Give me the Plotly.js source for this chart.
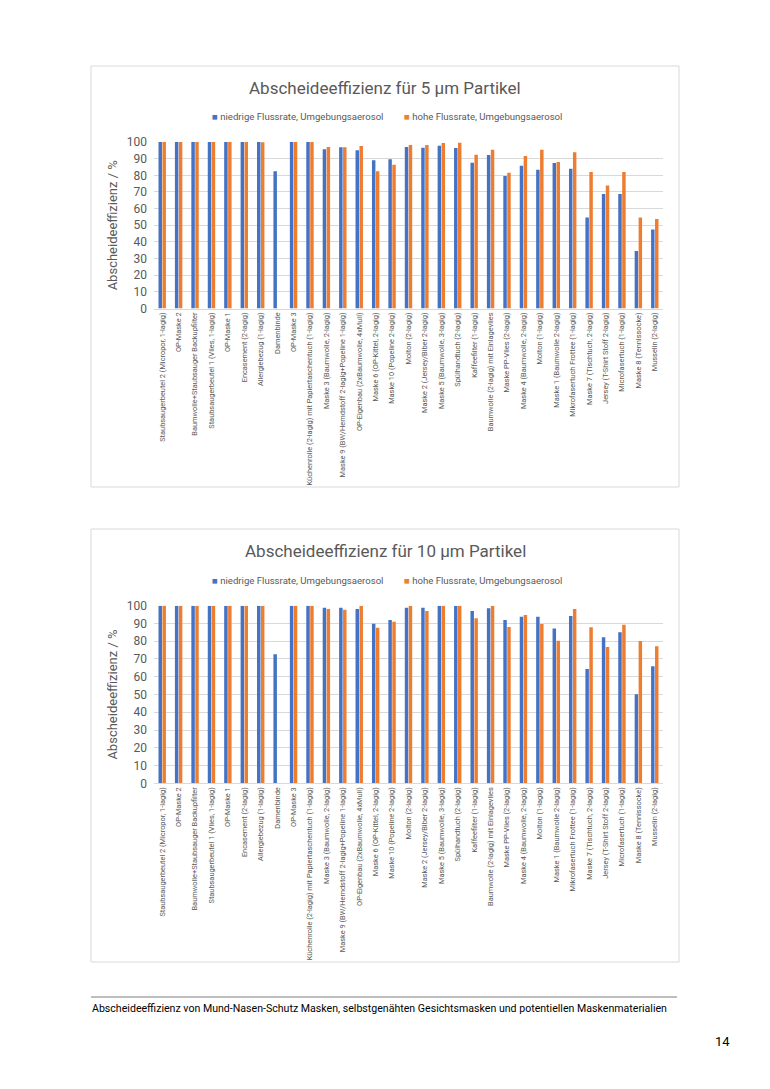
<!DOCTYPE html>
<html>
<head>
<meta charset="utf-8">
<script src="https://cdn.plot.ly/plotly-3.0.1.min.js"></script>
<style>html,body{margin:0;padding:0;background:#fff;}#chart{width:770px;height:1089px;}</style>
</head>
<body>
<div id="chart"></div>
<script>
const categories = [
  "Staubsaugerbeutel 2 (Micropor, 1-lagig)",
  "OP-Maske 2",
  "Baumwolle+Staubsauger Backupfilter",
  "Staubsaugerbeutel 1 (Vlies, 1-lagig)",
  "OP-Maske 1",
  "Encasement (2-lagig)",
  "Allergiebezug (1-lagig)",
  "Damenbinde",
  "OP-Maske 3",
  "Küchenrolle (2-lagig) mit Papiertaschentuch (1-lagig)",
  "Maske 3 (Baumwolle, 2-lagig)",
  "Maske 9 (BW/Hemdstoff 2-lagig+Popeline 1-lagig)",
  "OP-Eigenbau (2xBaumwolle, 4xMull)",
  "Maske 6 (OP-Kittel, 2-lagig)",
  "Maske 10 (Popeline 2-lagig)",
  "Molton (2-lagig)",
  "Maske 2 (Jersey/Biber 2-lagig)",
  "Maske 5 (Baumwolle, 3-lagig)",
  "Spülhandtuch (2-lagig)",
  "Kaffeefilter (1-lagig)",
  "Baumwolle (2-lagig) mit Einlagevlies",
  "Maske PP-Vlies (2-lagig)",
  "Maske 4 (Baumwolle, 2-lagig)",
  "Molton (1-lagig)",
  "Maske 1 (Baumwolle 2-lagig)",
  "Mikrofasertuch Frottee (1-lagig)",
  "Maske 7 (Tischtuch, 2-lagig)",
  "Jersey (T-Shirt Stoff 2-lagig)",
  "Microfasertuch (1-lagig)",
  "Maske 8 (Tennissocke)",
  "Musselin (2-lagig)"
];

// 5 µm particles
const low5 = [100,100,100,100,100,100,100,82.5,100,100,95.6,96.8,95,89,89.6,97,96.6,97.8,96.4,87.6,92.2,79.6,85.8,83.4,87.4,84,54.6,68.8,68.8,34.6,47.4];
const high5 = [100,100,100,100,100,100,99.8,null,100,100,97,96.8,97.6,82.4,86.4,98.2,98.2,99.4,99.6,92.4,95.4,81.6,91.6,95.4,88,93.8,82,73.8,82,54.6,53.8];

// 10 µm particles
const low10 = [100,100,100,100,100,100,100,72.6,100,100,98.9,98.9,98.1,89.9,91.9,98.9,98.9,100,100,97,98.5,91.9,93.8,93.8,87.2,94.2,64.4,82.2,85,50.1,65.9];
const high10 = [100,100,100,100,100,100,100,null,100,100,98.1,97.7,100,87.6,91,100,97,100,100,92.9,100,88,94.7,89.7,80.3,98.1,87.8,76.7,89.3,80.1,77.1];

const titles = ["Abscheideeffizienz für 5 µm Partikel", "Abscheideeffizienz für 10 µm Partikel"];
const seriesNames = ["niedrige Flussrate, Umgebungsaerosol", "hohe Flussrate, Umgebungsaerosol"];
const yTitle = "Abscheideeffizienz / %";
const footer = "Abscheideeffizienz von Mund-Nasen-Schutz Masken, selbstgenähten Gesichtsmasken und potentiellen Maskenmaterialien";
const pageNo = "14";

const BLUE = "#4472C4", ORANGE = "#ED7D31";
const colors = [BLUE, ORANGE];
const W = 770, H = 1089;
const px = x => x / W;
const py = y => 1 - y / H;

const traces = [
  {type:"bar", x:categories, y:low5, name:seriesNames[0], marker:{color:BLUE}, xaxis:"x", yaxis:"y", hoverinfo:"none"},
  {type:"bar", x:categories, y:high5, name:seriesNames[1], marker:{color:ORANGE}, xaxis:"x", yaxis:"y", hoverinfo:"none"},
  {type:"bar", x:categories, y:low10, name:seriesNames[0], marker:{color:BLUE}, xaxis:"x2", yaxis:"y2", hoverinfo:"none"},
  {type:"bar", x:categories, y:high10, name:seriesNames[1], marker:{color:ORANGE}, xaxis:"x2", yaxis:"y2", hoverinfo:"none"}
];

const gray = "#595959";
const font = "Roboto, 'Noto Sans', sans-serif";

function xAxis(anchor){
  return {anchor:anchor, domain:[px(154), px(663)], type:"category", tickangle:-90,
    tickfont:{family:font, size:7.4, color:gray}, showgrid:false, showline:true, linecolor:"#d9d9d9",
    ticks:"", fixedrange:true, automargin:false};
}
function yAxis(anchor, top, bottom){
  return {anchor:anchor, domain:[py(bottom), py(top)], range:[0,100], dtick:10,
    tickfont:{family:font, size:12, color:gray}, gridcolor:"#d9d9d9", gridwidth:1,
    showline:false, zeroline:false, ticks:"", ticklen:0, automargin:false, ticklabelstandoff:6,
    title:{text:yTitle, font:{family:font, size:13, color:gray}, standoff:6}, fixedrange:true};
}

const annotations = [
  {text:titles[0], xref:"paper", yref:"paper", x:px(385), y:py(88), xanchor:"center", yanchor:"middle", showarrow:false, font:{family:font, size:17, color:gray}},
  {text:titles[1], xref:"paper", yref:"paper", x:px(385), y:py(551), xanchor:"center", yanchor:"middle", showarrow:false, font:{family:font, size:17, color:gray}},
  {text:footer, xref:"paper", yref:"paper", x:px(90), y:py(1008), xanchor:"left", yanchor:"middle", showarrow:false, font:{family:font, size:10.6, color:"#000"}},
  {text:pageNo, xref:"paper", yref:"paper", x:px(732), y:py(1041), xanchor:"right", yanchor:"middle", showarrow:false, font:{family:font, size:13, color:"#000"}}
];
// legends (drawn as text with coloured squares)
const legendY = [117, 580];
const legendX = [210, 402];
legendY.forEach(ly => {
  seriesNames.forEach((nm, i) => {
    annotations.push({text:'<span style="color:' + colors[i] + '">■</span> ' + nm, xref:"paper", yref:"paper",
      x:px(legendX[i]), y:py(ly), xanchor:"left", yanchor:"middle", showarrow:false,
      font:{family:font, size:9.6, color:gray}});
  });
});

const layout = {
  width:W, height:H, margin:{l:0,r:0,t:0,b:0}, paper_bgcolor:"#fff", plot_bgcolor:"#fff",
  barmode:"group", bargap:0.52, bargroupgap:0.12,
  xaxis:xAxis("y"), yaxis:yAxis("x", 142, 308.5),
  xaxis2:xAxis("y2"), yaxis2:yAxis("x2", 605.7, 783.3),
  showlegend:false,
  shapes:[
    {type:"rect", xref:"paper", yref:"paper", x0:px(91), x1:px(679), y0:py(66), y1:py(487), line:{color:"#d9d9d9", width:1}, layer:"below"},
    {type:"rect", xref:"paper", yref:"paper", x0:px(91), x1:px(679), y0:py(529), y1:py(962), line:{color:"#d9d9d9", width:1}, layer:"below"},
    {type:"line", xref:"paper", yref:"paper", x0:px(91), x1:px(677), y0:py(997), y1:py(997), line:{color:"#7f7f7f", width:1.2}}
  ],
  annotations:annotations
};

Plotly.newPlot("chart", traces, layout, {staticPlot:true, displayModeBar:false});
</script>
</body>
</html>
